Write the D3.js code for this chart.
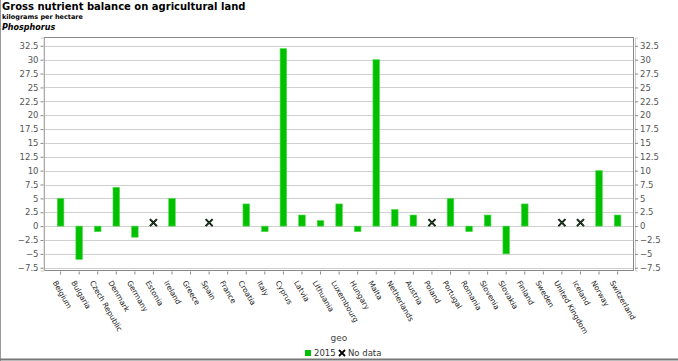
<!DOCTYPE html>
<html><head><meta charset="utf-8">
<script src="https://cdn.jsdelivr.net/npm/d3@7/dist/d3.min.js"></script>
<style>body{margin:0;background:#fff}svg{display:block}</style>
</head><body>
<script>
const categories = ["Belgium","Bulgaria","Czech Republic","Denmark","Germany","Estonia","Ireland","Greece","Spain","France","Croatia","Italy","Cyprus","Latvia","Lithuania","Luxembourg","Hungary","Malta","Netherlands","Austria","Poland","Portugal","Romania","Slovenia","Slovakia","Finland","Sweden","United Kingdom","Iceland","Norway","Switzerland"];
const values2015 = [5,-6,-1,7,-2,null,5,0,null,0,4,-1,32,2,1,4,-1,30,3,2,null,5,-1,2,-5,4,0,null,null,10,2];
const yTicks = [-7.5,-5,-2.5,0,2.5,5,7.5,10,12.5,15,17.5,20,22.5,25,27.5,30,32.5];
const titleText = "Gross nutrient balance on agricultural land";
const unitText = "kilograms per hectare";
const subText = "Phosphorus";

const W = 678, H = 361;
const svg = d3.select("body").append("svg").attr("width", W).attr("height", H);
const font = "'DejaVu Sans', Verdana, sans-serif";

// outer frame (left and bottom)
svg.append("line").attr("x1",0.5).attr("x2",0.5).attr("y1",0).attr("y2",H).attr("stroke","#999");
svg.append("line").attr("x1",0).attr("x2",W).attr("y1",359.5).attr("y2",359.5).attr("stroke","#777").attr("stroke-width",2);

svg.append("text").attr("x",2).attr("y",10).attr("font-family",font).attr("font-size",10).attr("font-weight","bold").text(titleText);
svg.append("text").attr("x",2).attr("y",19).attr("font-family",font).attr("font-size",6.5).attr("font-weight","bold").text(unitText);
svg.append("text").attr("x",2).attr("y",30).attr("font-family",font).attr("font-size",8).attr("font-weight","bold").attr("font-style","italic").text(subText);

const pl = 44.5, pr = 633.5, pt = 37.5, pb = 270.5;
const y = d3.scaleLinear().domain([-8, 34]).range([pb, pt]);
const x = d3.scaleBand().domain(categories).range([51.4, 626.8]).paddingInner(0.65).paddingOuter(0.32);

// gridlines
svg.append("g").selectAll("line").data(yTicks).join("line")
  .attr("x1", pl).attr("x2", pr)
  .attr("y1", d => Math.round(y(d)) + 0.5).attr("y2", d => Math.round(y(d)) + 0.5)
  .attr("stroke", "#d0d0d0");

// plot frame
svg.append("rect").attr("x",pl).attr("y",pt).attr("width",pr-pl).attr("height",pb-pt)
  .attr("fill","none").attr("stroke","#888");

// left axis
const yl = d3.axisLeft(y).tickValues(yTicks).tickSize(3).tickPadding(2).tickFormat(d3.format("~g"));
const gl = svg.append("g").attr("transform",`translate(${pl-1},0)`).call(yl);
gl.select(".domain").attr("stroke","#ccc");
gl.selectAll(".tick line").attr("stroke","#888");
gl.selectAll("text").attr("font-family",font).attr("font-size",8.5).attr("fill","#555");

// right axis
const yr = d3.axisRight(y).tickValues(yTicks).tickSize(3).tickPadding(2).tickFormat(d3.format("~g"));
const gr = svg.append("g").attr("transform",`translate(${pr+1.5},0)`).call(yr);
gr.select(".domain").attr("stroke","#ccc");
gr.selectAll(".tick line").attr("stroke","#888");
gr.selectAll("text").attr("font-family",font).attr("font-size",8.5).attr("fill","#555");

// bars
const data = categories.map((c,i)=>({c, v: values2015[i]}));
svg.append("g").selectAll("rect").data(data.filter(d => d.v !== null && d.v !== 0)).join("rect")
  .attr("x", d => x(d.c) + x.bandwidth()/2 - 3.3)
  .attr("width", 6.6)
  .attr("y", d => y(Math.max(0,d.v)))
  .attr("height", d => Math.abs(y(d.v) - y(0)))
  .attr("fill","#00c000").attr("stroke","#4fdc4f").attr("stroke-width",0.6);

// no data markers
const nd = svg.append("g").selectAll("g").data(data.filter(d => d.v === null)).join("g")
  .attr("transform", d => `translate(${x(d.c)+x.bandwidth()/2},${y(0)-3.5})`);
nd.append("path").attr("d","M-3.5,-3.5L3.5,3.5M-3.5,3.5L3.5,-3.5").attr("stroke","#000").attr("stroke-width",2);
nd.append("path").attr("d","M-3.5,-3.5L3.5,3.5M-3.5,3.5L3.5,-3.5").attr("stroke","#2a6a2a").attr("stroke-width",0.8);

// bottom axis
const xb = d3.axisBottom(x).tickSize(3).tickPadding(3);
const gb = svg.append("g").attr("transform",`translate(0,${pb+1})`).call(xb);
gb.select(".domain").remove();
gb.selectAll(".tick line").attr("stroke","#888");
gb.selectAll("text").attr("font-family",font).attr("font-size",7.5).attr("fill","#222")
  .attr("text-anchor","start").attr("dy",0)
  .attr("transform","translate(-3,8) rotate(60)");

svg.append("text").attr("x",339).attr("y",341).attr("text-anchor","middle").attr("font-family",font).attr("font-size",9).attr("fill","#444").text("geo");

// legend
const lg = svg.append("g").attr("transform","translate(305,356)");
lg.append("rect").attr("x",0).attr("y",-6).attr("width",6).attr("height",6).attr("fill","#00c000");
lg.append("text").attr("x",9).attr("y",0).attr("font-family",font).attr("font-size",8.5).attr("fill","#333").text("2015");
lg.append("path").attr("d","M34,-6L40,0M34,0L40,-6").attr("stroke","#000").attr("stroke-width",1.8);
lg.append("text").attr("x",43).attr("y",0).attr("font-family",font).attr("font-size",8.5).attr("fill","#333").text("No data");
</script>
</body></html>
